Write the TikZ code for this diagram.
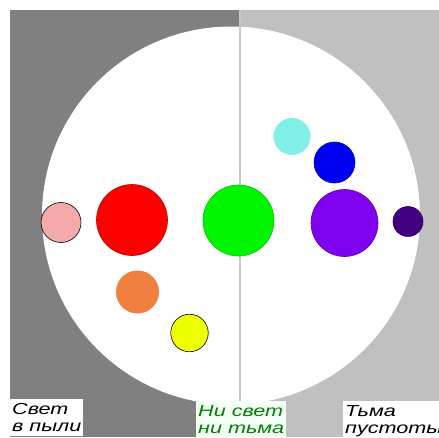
\documentclass[tikz,border=0pt]{standalone}
\usepackage{fontspec}
\newfontfamily\capfont[FakeStretch=1.35]{Liberation Sans}
\definecolor{darkside}{HTML}{808080}
\definecolor{lightside}{HTML}{C0C0C0}
\definecolor{divider}{HTML}{C8C8C8}
\definecolor{pinkdust}{HTML}{F4AAAA}
\definecolor{lime}{HTML}{00F500}
\definecolor{violet}{HTML}{8000F0}
\definecolor{plum}{HTML}{400080}
\definecolor{aqua}{HTML}{80F0E8}
\definecolor{deepblue}{HTML}{0000F0}
\definecolor{orangeball}{HTML}{F08040}
\definecolor{lemon}{HTML}{EEFF00}
\definecolor{midgreen}{HTML}{008000}
\tikzset{
  ball/.style={circle, inner sep=0pt, line width=0.6pt},
  capbox/.style={anchor=north west, fill=white, inner xsep=2pt, inner ysep=4pt,
    align=left, font=\capfont\itshape\fontsize{16}{17}\selectfont}
}
\begin{document}
\begin{tikzpicture}[x=1pt, y=-1pt]
\clip (0,0) rectangle (439,437);
\fill[white] (0,0) rectangle (439,437);
% two halves and the disc
\fill[darkside] (10,10) rectangle (240,437);
\fill[lightside] (240,10) rectangle (439,437);
\fill[white] (231,215.5) circle [radius=189];
% captions
\node[capbox] (light) at (10,399) {Свет\\в пыли};
\node[capbox, fill=green!4, text=midgreen] (mid) at (196,401) {Ни свет\\ни тьма};
\node[capbox] (dark) at (343,401) {Тьма\\пустоты};
\coordinate (divtop) at (240,10);
\draw[divider, line width=1.5pt] (divtop) -- (divtop |- mid.north);
% balls
\node[ball, fill=pinkdust, draw=black, minimum size=40pt] (pinkball) at (61,222.5) {};
\node[ball, fill=red, draw=red!75!black, minimum size=71pt] (redball) at (132,220) {};
\node[ball, fill=lime, draw=lime!80!black, minimum size=71pt] (greenball) at (238.5,220.5) {};
\node[ball, fill=violet, draw=violet!75!black, minimum size=67pt] (violetball) at (344.5,223) {};
\node[ball, fill=plum, draw=plum!80!black, minimum size=30pt] (plumball) at (408,221.5) {};
\node[ball, fill=aqua, minimum size=37pt] (aquaball) at (292,136.5) {};
\node[ball, fill=deepblue, draw=deepblue!75!black, minimum size=41pt] (blueball) at (334.5,162.5) {};
\node[ball, fill=orangeball, minimum size=43pt] (orangeball) at (137.5,292) {};
\node[ball, fill=lemon, draw=black, minimum size=37.5pt] (yellowball) at (189.5,333) {};
\end{tikzpicture}
\end{document}
